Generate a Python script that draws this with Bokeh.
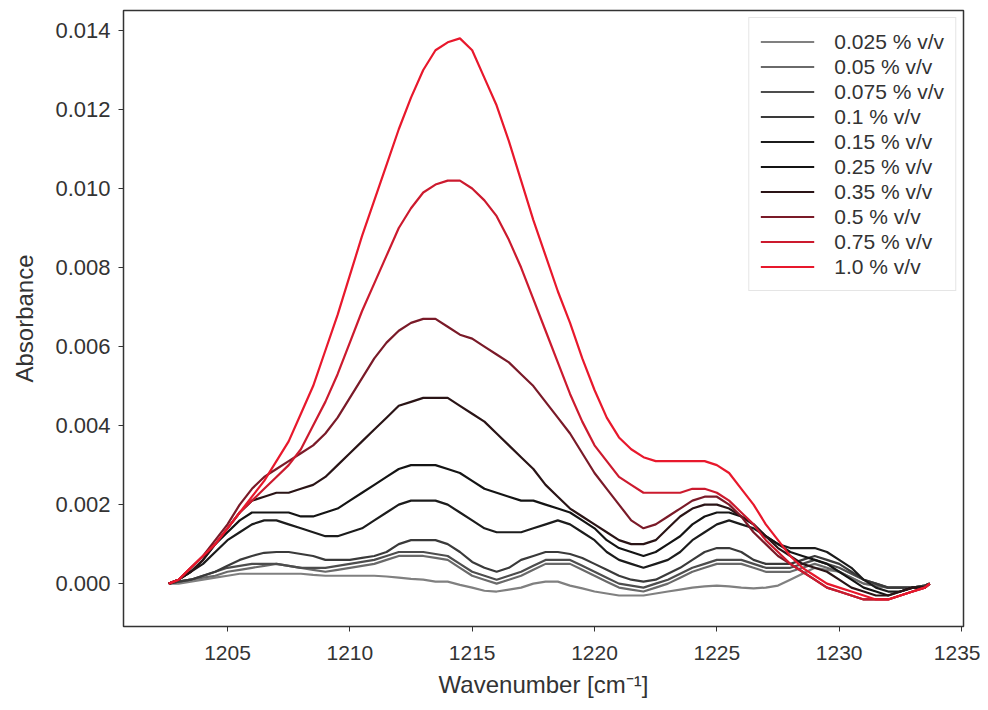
from bokeh.plotting import figure
from bokeh.models import FixedTicker, NumeralTickFormatter, Range1d, Legend
from bokeh.embed import file_html
from bokeh.resources import INLINE

wavenumber = [1202.6, 1203, 1203.5, 1204, 1204.5, 1205, 1205.5, 1206, 1206.5, 1207, 1207.5,
              1208, 1208.5, 1209, 1209.5, 1210, 1210.5, 1211, 1211.5, 1212, 1212.5,
              1213, 1213.5, 1214, 1214.5, 1215, 1215.5, 1216, 1216.5, 1217, 1217.5,
              1218, 1218.5, 1219, 1219.5, 1220, 1220.5, 1221, 1221.5, 1222, 1222.5,
              1223, 1223.5, 1224, 1224.5, 1225, 1225.5, 1226, 1226.5, 1227, 1227.5,
              1228, 1228.5, 1229, 1229.5, 1230, 1230.5, 1231, 1231.5, 1232, 1232.5,
              1233, 1233.5, 1233.7]

labels = ["0.025 % v/v", "0.05 % v/v", "0.075 % v/v", "0.1 % v/v", "0.15 % v/v",
          "0.25 % v/v", "0.35 % v/v", "0.5 % v/v", "0.75 % v/v", "1.0 % v/v"]

a_10 = [0, .0001, .0004, .0007, .0010, .0014, .0018, .0022, .0026, .0031, .0036,
        .0043, .0050, .0059, .0068, .0078, .0088, .0097, .0106, .0115, .0123,
        .0130, .0135, .0137, .0138, .0135, .0128, .0121, .0112, .0102, .0092,
        .0083, .0074, .0066, .0057, .0049, .0042, .0037, .0034, .0032, .0031,
        .0031, .0031, .0031, .0031, .0030, .0028, .0024, .0020, .0015, .0011,
        .0007, .0004, .0002, .0000, -.0001, -.0002, -.0003, -.0004, -.0004, -.0003,
        -.0002, -.0001, 0]
a_075 = [0, .0001, .0004, .0007, .0010, .0014, .0018, .0021, .0024, .0027, .0030,
         .0034, .0040, .0046, .0053, .0061, .0069, .0076, .0083, .0090, .0095,
         .0099, .0101, .0102, .0102, .0100, .0097, .0093, .0087, .0080, .0072,
         .0064, .0056, .0048, .0041, .0035, .0031, .0027, .0025, .0023, .0023,
         .0023, .0023, .0024, .0024, .0023, .0021, .0018, .0015, .0011, .0008,
         .0005, .0003, .0001, -.0001, -.0002, -.0003, -.0004, -.0004, -.0004, -.0003,
         -.0002, -.0001, 0]
a_05 = [0, .0001, .0004, .0007, .0011, .0015, .0020, .0024, .0027, .0029, .0031,
        .0033, .0035, .0038, .0042, .0047, .0052, .0057, .0061, .0064, .0066,
        .0067, .0067, .0065, .0063, .0062, .0060, .0058, .0056, .0053, .0050,
        .0046, .0042, .0038, .0033, .0028, .0024, .0020, .0016, .0014, .0015,
        .0017, .0019, .0021, .0022, .0022, .0020, .0017, .0013, .0010, .0007,
        .0005, .0003, .0001, -.0001, -.0002, -.0003, -.0004, -.0004, -.0004, -.0003,
        -.0002, -.0001, 0]
a_035 = [0, .0001, .0003, .0006, .0010, .0014, .0018, .0021, .0022, .0023, .0023,
         .0024, .0025, .0027, .0030, .0033, .0036, .0039, .0042, .0045, .0046,
         .0047, .0047, .0047, .0045, .0043, .0041, .0038, .0035, .0032, .0029,
         .0025, .0022, .0019, .0017, .0015, .0013, .0011, .0010, .0010, .0011,
         .0014, .0017, .0019, .0020, .0020, .0019, .0017, .0015, .0012, .0009,
         .0007, .0005, .0004, .0003, .0001, -.0001, -.0002, -.0003, -.0003, -.0002,
         -.0001, -.0001, 0]
a_025 = [0, .0001, .0003, .0006, .0010, .0013, .0016, .0018, .0018, .0018, .0018,
         .0017, .0017, .0018, .0019, .0021, .0023, .0025, .0027, .0029, .0030,
         .0030, .0030, .0029, .0028, .0026, .0024, .0023, .0022, .0021, .0021,
         .0020, .0019, .0018, .0016, .0014, .0011, .0009, .0008, .0007, .0008,
         .0010, .0012, .0015, .0017, .0018, .0018, .0017, .0015, .0012, .0010,
         .0008, .0007, .0006, .0005, .0003, .0001, -.0001, -.0002, -.0003, -.0002,
         -.0001, -.0001, 0]
a_015 = [0, .0001, .0003, .0005, .0008, .0011, .0013, .0015, .0016, .0016, .0015,
         .0014, .0013, .0012, .0012, .0013, .0014, .0016, .0018, .0020, .0021,
         .0021, .0021, .0020, .0018, .0016, .0014, .0013, .0013, .0013, .0014,
         .0015, .0016, .0015, .0013, .0011, .0008, .0006, .0005, .0004, .0005,
         .0006, .0008, .0011, .0013, .0015, .0016, .0015, .0014, .0012, .0010,
         .0009, .0009, .0009, .0008, .0006, .0004, .0001, -.0001, -.0002, -.0002,
         -.0001, -.0001, 0]
a_01 = [0, .00005, .0001, .0002, .0003, .00045, .0006, .0007, .00078, .0008, .0008,
        .00075, .0007, .0006, .0006, .0006, .00065, .0007, .0008, .0010, .0011,
        .0011, .0011, .0010, .0008, .00055, .0004, .0003, .0004, .0006, .0007,
        .0008, .0008, .00075, .00065, .0005, .00035, .0002, .0001, .00005, .0001,
        .00025, .0004, .0006, .0008, .0009, .0009, .0008, .0006, .0005, .0005,
        .0005, .0006, .0007, .0006, .0005, .0003, .0001, 0, -.0001, -.0001,
        -.0001, -.00005, 0]
a_0075 = [0, .00005, .0001, .0002, .0003, .0004, .00045, .0005, .0005, .0005, .00045,
          .0004, .0004, .0004, .00045, .0005, .00055, .0006, .0007, .0008, .0008,
          .0008, .00075, .0007, .0005, .0003, .0002, .0001, .0002, .0003, .00045,
          .0006, .0006, .0006, .00045, .0003, .00015, 0, -.00005, -.0001, 0,
          .0001, .00025, .0004, .0005, .0006, .0006, .0006, .0005, .0004, .0004,
          .0004, .0005, .0006, .0005, .0004, .00025, .0001, 0, -.0001, -.0001,
          -.0001, -.00005, 0]
a_005 = [0, .00005, .0001, .00015, .0002, .0003, .00035, .0004, .00045, .0005, .00045,
         .0004, .00035, .0003, .00035, .0004, .00045, .0005, .0006, .0007, .0007,
         .0007, .00065, .0006, .0004, .0002, .0001, 0, .0001, .0002, .00035,
         .0005, .0005, .0005, .00035, .0002, .00005, -.0001, -.00015, -.0002, -.0001,
         0, .00015, .0003, .0004, .0005, .0005, .0005, .0004, .0003, .0003,
         .0003, .0004, .0005, .0004, .0003, .00015, 0, -.00005, -.0001, -.0001,
         -.0001, -.00005, 0]
a_0025 = [0, 0, .00005, .0001, .00015, .0002, .00025, .00025, .00025, .00025, .00025,
          .00025, .00022, .0002, .0002, .0002, .0002, .0002, .00018, .00015, .00012,
          .0001, .00005, .00005, -.00003, -.0001, -.00018, -.0002, -.00015, -.0001, 0,
          .00005, .00005, -.00005, -.00012, -.0002, -.00025, -.0003, -.0003, -.0003, -.00025,
          -.0002, -.00015, -.0001, -.00007, -.00005, -.00007, -.0001, -.00012, -.0001, -.00005,
          .0001, .00025, .0004, .00035, .0003, .00015, 0, -.00005, -.0001, -.0001,
          -.0001, -.00005, 0]

series = [a_0025, a_005, a_0075, a_01, a_015, a_025, a_035, a_05, a_075, a_10]
colors = ["#808080", "#6a6a6a", "#4d4d4d", "#3a3a3a", "#1c1c1c",
          "#141414", "#2a1416", "#7a1a28", "#cc1a2e", "#e8182c"]

y_ticks = [0.0, 0.002, 0.004, 0.006, 0.008, 0.010, 0.012, 0.014]
x_ticks = [1205, 1210, 1215, 1220, 1225, 1230, 1235]

FONT = "Liberation Sans"

p = figure(width=980, height=700, output_backend="svg", toolbar_location=None,
           x_range=Range1d(1200.75, 1235.08), y_range=Range1d(-0.001085, 0.014505))
p.min_border_left = 123
p.min_border_top = 10
p.min_border_right = 17
p.min_border_bottom = 72

p.xgrid.visible = False
p.ygrid.visible = False
p.outline_line_color = "#333333"
p.outline_line_width = 1.5
p.background_fill_color = "white"
p.border_fill_color = "white"

items = []
for s, c, lab in zip(series, colors, labels):
    r = p.line(wavenumber, s, line_color=c, line_width=2.2)
    items.append((lab, [r]))

legend = Legend(items=items, location="top_right")
legend.label_text_font = FONT
legend.label_text_font_size = "21px"
legend.label_text_color = "#333333"
legend.glyph_width = 54
legend.glyph_height = 25
legend.label_height = 25
legend.spacing = 0
legend.padding = 11
legend.margin = 7
legend.label_standoff = 20
legend.border_line_color = "#cccccc"
legend.border_line_width = 1
legend.background_fill_alpha = 1.0
p.add_layout(legend)

for ax in (p.xaxis[0], p.yaxis[0]):
    ax.major_label_text_font = FONT
    ax.major_label_text_color = "#333333"
    ax.axis_label_text_font = FONT
    ax.axis_label_text_font_size = "24px"
    ax.axis_label_text_font_style = "normal"
    ax.axis_label_text_color = "#333333"
    ax.axis_line_color = "#333333"
    ax.major_tick_line_color = "#333333"
    ax.major_tick_in = 0
    ax.major_tick_out = 5
    ax.minor_tick_line_color = None

p.xaxis[0].major_label_text_font_size = "21px"
p.yaxis[0].major_label_text_font_size = "22px"
p.xaxis[0].ticker = FixedTicker(ticks=x_ticks)
p.yaxis[0].ticker = FixedTicker(ticks=y_ticks)
p.yaxis[0].formatter = NumeralTickFormatter(format="0.000")
p.xaxis[0].axis_label = "Wavenumber [cm\u207b\u00b9]"
p.yaxis[0].axis_label = "Absorbance"
p.xaxis[0].major_label_standoff = 14
p.yaxis[0].major_label_standoff = 8
p.xaxis[0].axis_label_standoff = 8
p.yaxis[0].axis_label_standoff = 14

open("out.html", "w").write(file_html(p, INLINE))
